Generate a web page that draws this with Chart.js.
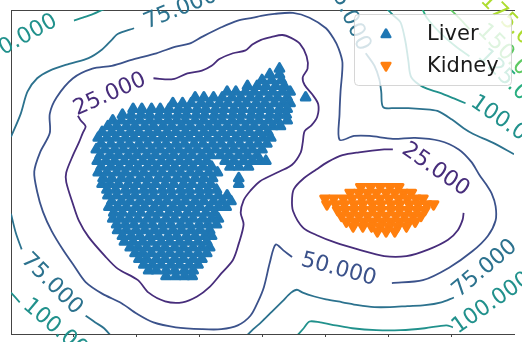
<!DOCTYPE html>
<html>
<head>
<meta charset="utf-8">
<title>Liver / Kidney embedding</title>
<script src="https://cdn.jsdelivr.net/npm/chart.js@4.4.1/dist/chart.umd.min.js"></script>
<style>
  html, body { margin: 0; padding: 0; background: #fff; }
  #wrap { width: 522px; height: 342px; }
</style>
</head>
<body>
<div id="wrap"><canvas id="tissueChart" width="522" height="342"></canvas></div>
<script>
// samples, one row of the cloud per y value
const liverRowY = [63, 69, 75, 81, 87, 93, 99, 105, 111, 117, 123, 129, 135, 141, 147, 153, 159, 165, 171,
  177, 183, 189, 195, 201, 207, 213, 219, 225, 231, 237, 243, 249, 255, 261, 267, 273, 279];
const liverRowX = [
  [280],
  [270, 280],
  [262, 272, 282],
  [247, 257, 266, 276, 285],
  [226, 235, 245, 254, 264, 273, 283, 291],
  [193, 202, 212, 221, 231, 240, 250, 259, 269, 278, 288, 307],
  [170, 180, 189, 199, 208, 218, 227, 237, 246, 256, 265, 275, 284, 291],
  [129, 138, 148, 157, 166, 176, 185, 195, 204, 214, 223, 233, 242, 252, 261, 270, 280, 288],
  [118, 127, 137, 146, 156, 165, 175, 184, 194, 203, 213, 222, 232, 241, 251, 260, 270, 279, 287],
  [108, 117, 127, 136, 146, 155, 165, 174, 183, 193, 202, 212, 221, 231, 240, 250, 259, 269, 278, 288],
  [103, 112, 122, 131, 141, 150, 160, 169, 179, 188, 198, 207, 216, 226, 235, 245, 254, 264, 273, 281],
  [97, 107, 116, 126, 135, 145, 154, 164, 173, 183, 192, 202, 211, 221, 230, 240, 249, 259, 268],
  [93, 102, 111, 121, 130, 140, 149, 159, 168, 178, 187, 197, 206, 216, 225, 235, 244, 254, 263, 271],
  [96, 106, 116, 125, 135, 144, 154, 163, 173, 182, 192, 201, 211, 220, 230, 239, 249, 258, 267],
  [91, 100, 110, 119, 129, 138, 148, 157, 167, 176, 186, 195, 205, 214, 224, 233, 243, 252, 262],
  [95, 105, 114, 124, 133, 143, 152, 162, 171, 181, 190, 200, 209, 219, 228, 238, 247, 257],
  [92, 101, 110, 120, 129, 139, 148, 158, 167, 177, 186, 196, 205, 224, 233, 243, 252, 260, 266],
  [96, 106, 115, 125, 134, 144, 153, 163, 172, 182, 191, 201, 210, 229, 238, 248],
  [93, 102, 112, 121, 131, 140, 150, 159, 169, 178, 188, 197, 207, 216],
  [98, 107, 117, 126, 136, 145, 155, 164, 174, 183, 193, 202, 211, 238],
  [97, 105, 114, 124, 133, 143, 152, 162, 171, 181, 190, 200, 209, 238],
  [102, 111, 121, 130, 140, 149, 159, 168, 178, 187, 197, 206, 215],
  [103, 112, 122, 131, 141, 150, 160, 169, 179, 188, 198, 207, 217, 226],
  [107, 117, 126, 136, 145, 155, 164, 174, 183, 193, 202, 212, 221, 230],
  [104, 113, 122, 132, 141, 151, 160, 170, 179, 189, 198, 208, 217, 225],
  [109, 118, 128, 137, 147, 156, 166, 175, 185, 194, 204, 213],
  [108, 116, 125, 134, 144, 153, 163, 172, 182, 191, 201, 210, 217],
  [112, 121, 130, 140, 149, 159, 168, 178, 187, 197, 206, 215],
  [113, 122, 132, 141, 151, 160, 170, 179, 189, 198, 208],
  [118, 127, 136, 146, 155, 165, 174, 184, 193, 203, 210],
  [120, 129, 139, 148, 158, 167, 177, 186, 196, 205],
  [126, 134, 143, 153, 162, 172, 181, 191, 200, 208],
  [131, 139, 148, 158, 167, 177, 186, 196, 205],
  [135, 143, 153, 162, 172, 181, 191, 200],
  [140, 149, 158, 168, 177, 187, 196],
  [145, 153, 163, 172, 182, 191],
  [163, 173, 182, 190]
];
const kidneyRowY = [186, 192, 198, 204, 210, 216, 222, 227, 232];
const kidneyRowX = [
  [364, 374, 384, 394, 403],
  [353, 362, 371, 380, 390, 399, 408, 416],
  [327, 336, 346, 355, 365, 374, 384, 393, 403, 412, 421, 428],
  [329, 338, 347, 357, 366, 376, 385, 395, 404, 414, 423, 432, 439],
  [340, 348, 357, 366, 376, 385, 395, 404, 413, 422, 430],
  [344, 353, 362, 371, 381, 390, 400, 409, 418, 426],
  [349, 358, 367, 376, 386, 395, 404, 413, 420],
  [356, 366, 375, 384, 393, 402, 411],
  [381, 390, 399]
];

// contour levels and their viridis colours
const levels = [25, 50, 75, 100, 125, 150, 175];
const levelColors = ['#472d7b', '#3b528b', '#2c728e', '#21918c', '#28ae80', '#5ec962', '#addc30'];

// contour pieces (broken where the labels sit)
const c25Liver = [[150,73],[170,74],[185,68],[200,65],[210,60],[218,53],[232,47],[245,44],[252,38],[261,33],
  [272,30],[283,28],[292,31],[301,37],[308,50],[309,63],[304,72],[306,80],[314,90],[320,100],[319,113],
  [313,122],[306,128],[304,140],[302,150],[293,163],[280,170],[260,180],[250,190],[243,200],[240,213],
  [243,225],[238,245],[232,262],[220,276],[208,290],[195,300],[180,306],[162,305],[145,296],[134,283],
  [113,271],[100,258],[83,238],[73,221],[67,204],[60,181],[60,171],[67,153],[73,140],[77,130],[80,123],
  [75,117],[72,112]];
const c25Kidney = [[397,147],[388,147],[362,150],[345,153],[330,160],[318,168],[304,178],[295,188],[293,198],
  [294,211],[304,228],[318,236],[338,244],[361,251],[388,258],[411,258],[434,251],[454,241],[464,231],
  [469,220],[470,213]];
const c50 = [[396,286],[428,283],[455,270],[479,253],[495,237],[503,221],[503,206],[499,193],[493,183],
  [486,173],[478,160],[465,147],[445,138],[420,135],[397,136],[373,133],[357,133],[342,137],[342,110],
  [343,87],[345,57],[341,42],[336,32],[328,21],[311,10],[294,5],[275,6],[261,8],[253,10],[237,13],
  [220,20],[200,30],[187,37],[173,40],[153,47],[130,53],[107,60],[87,63],[67,73],[50,93],[43,110],
  [43,130],[33,150],[27,170],[30,191],[36,212],[45,232],[57,252],[68,268],[80,285],[97,297],[117,307],
  [133,318],[150,327],[173,332],[200,334],[220,334],[237,330],[250,320],[258,305],[264,290],[270,265],
  [276,246],[284,252],[293,259]];
const c75TopLeft = [[3,134],[13,110],[20,87],[30,73],[43,65],[63,58],[83,52],[97,43],[107,33],[113,27],[130,21]];
const c75Left = [[3,214],[8,234],[14,251]];
const c75LeftLow = [[80,320],[90,327],[99,333],[107,342]];
const c75Bottom = [[245,342],[253,334],[261,327],[272,316],[283,305],[292,296],[298,293],[304,296],[316,300],
  [328,303],[345,306],[361,309],[378,311],[394,311],[412,310],[430,309],[447,306],[460,301]];
const c75Right = [[369,47],[378,60],[383,74],[385,87],[387,103],[400,104],[413,104],[428,105],[443,107],
  [458,116],[470,125],[480,131],[500,140],[522,152]];
const c100TopLeft = [[68,13],[77,10],[88,6],[97,2],[102,0]];
const c100Left = [[3,296],[12,306]];
const c100Bottom = [[297,342],[305,333],[311,326],[322,327],[338,330],[355,333],[380,335],[405,335],
  [430,333],[452,330],[459,332]];
const c100Right = [[390,0],[398,8],[405,15],[410,35],[413,55],[416,72],[428,82],[445,88],[460,94],[472,99]];
const c125 = [[427,0],[432,10],[445,25],[462,40],[476,50]];
const c150 = [[455,0],[467,12],[476,22]];

const contourPieces = [
  [25, c25Liver], [25, c25Kidney], [50, c50],
  [75, c75TopLeft], [75, c75Left], [75, c75LeftLow], [75, c75Bottom], [75, c75Right],
  [100, c100TopLeft], [100, c100Left], [100, c100Bottom], [100, c100Right],
  [125, c125], [150, c150]
];

// inline labels: level, centre x, centre y, angle (deg)
const contourLabels = [
  [25, 105, 90, -24], [25, 441, 168, 35], [50, 341, 272, 15],
  [75, 178, 1, -22], [75, 45, 287, 45], [75, 492, 271, -40], [75, 351, 7, 65],
  [100, 8, 35, -29], [100, 54, 337, 40], [100, 499, 307, -35], [100, 518, 123, 35],
  [125, 521, 80, 45], [150, 521, 54, 45], [175, 524, 22, 45]
];

const xTicks = [67, 132, 197, 262, 327, 392, 457];

function colorFor(level) {
  return levelColors[levels.indexOf(level)];
}

function rowsToPoints(ys, xs) {
  const pts = [];
  ys.forEach((y, i) => xs[i].forEach(x => pts.push({ x: x, y: y })));
  return pts;
}

const liverSet = {
  label: 'Liver',
  data: rowsToPoints(liverRowY, liverRowX),
  pointStyle: 'triangle',
  pointRadius: 5,
  pointRotation: 0,
  pointBackgroundColor: '#1f77b4',
  pointBorderColor: '#1f77b4',
  pointBorderWidth: 3,
  showLine: false
};
const kidneySet = {
  label: 'Kidney',
  data: rowsToPoints(kidneyRowY, kidneyRowX),
  pointStyle: 'triangle',
  pointRadius: 5,
  pointRotation: 180,
  pointBackgroundColor: '#ff7f0e',
  pointBorderColor: '#ff7f0e',
  pointBorderWidth: 3,
  showLine: false
};
const lineSets = contourPieces.map(p => ({
  label: 'level ' + p[0],
  data: p[1].map(q => ({ x: q[0], y: q[1] })),
  showLine: true,
  borderColor: colorFor(p[0]),
  borderWidth: 1.8,
  borderJoinStyle: 'round',
  pointRadius: 0,
  tension: 0.3,
  fill: false
}));

// softer marker corners so the dense clouds close up like the original
const markerJoin = {
  id: 'markerJoin',
  beforeDatasetsDraw(chart) { chart.ctx.lineJoin = 'round'; },
  afterDatasetsDraw(chart) { chart.ctx.lineJoin = 'miter'; }
};

const labelPlugin = {
  id: 'contourLabels',
  afterDatasetsDraw(chart) {
    const ctx = chart.ctx, xs = chart.scales.x, ys = chart.scales.y;
    ctx.save();
    ctx.font = '22px "DejaVu Sans"';
    ctx.textAlign = 'center';
    ctx.textBaseline = 'middle';
    contourLabels.forEach(l => {
      ctx.save();
      ctx.translate(xs.getPixelForValue(l[1]), ys.getPixelForValue(l[2]));
      ctx.rotate(l[3] * Math.PI / 180);
      ctx.fillStyle = colorFor(l[0]);
      ctx.fillText(l[0].toFixed(3), 0, 0);
      ctx.restore();
    });
    ctx.restore();
  }
};

function drawMarker(ctx, rot, x, y) {
  if (Chart.helpers && Chart.helpers.drawPoint) {
    Chart.helpers.drawPoint(ctx, { pointStyle: 'triangle', radius: 5, rotation: rot, borderWidth: 2.5 }, x, y);
    return;
  }
  const r = 5, s = rot ? -1 : 1;
  ctx.beginPath();
  ctx.moveTo(x, y - s * r);
  ctx.lineTo(x + 0.866 * r, y + s * r / 2);
  ctx.lineTo(x - 0.866 * r, y + s * r / 2);
  ctx.closePath();
  ctx.fill();
  ctx.stroke();
}

const legendPlugin = {
  id: 'boxLegend',
  afterDraw(chart) {
    const ctx = chart.ctx;
    const bx = 354.5, by = 14.5, bw = 157, bh = 71, rad = 4;
    ctx.save();
    ctx.beginPath();
    ctx.moveTo(bx + rad, by);
    ctx.arcTo(bx + bw, by, bx + bw, by + bh, rad);
    ctx.arcTo(bx + bw, by + bh, bx, by + bh, rad);
    ctx.arcTo(bx, by + bh, bx, by, rad);
    ctx.arcTo(bx, by, bx + bw, by, rad);
    ctx.closePath();
    ctx.fillStyle = 'rgba(255,255,255,0.8)';
    ctx.fill();
    ctx.strokeStyle = 'rgba(204,204,204,0.8)';
    ctx.lineWidth = 1;
    ctx.stroke();

    const items = [[chart.data.datasets[0], 34.5, 39.5], [chart.data.datasets[1], 65.5, 71.5]];
    ctx.font = '21px "DejaVu Sans"';
    ctx.textAlign = 'left';
    ctx.textBaseline = 'alphabetic';
    ctx.lineJoin = 'round';
    items.forEach(it => {
      const ds = it[0];
      ctx.fillStyle = ds.pointBackgroundColor;
      ctx.strokeStyle = ds.pointBorderColor;
      ctx.lineWidth = 2.5;
      drawMarker(ctx, ds.pointRotation, 386, it[1]);
      ctx.fillStyle = '#1a1a1a';
      ctx.fillText(ds.label, 427, it[2]);
    });
    ctx.restore();
  }
};

new Chart(document.getElementById('tissueChart'), {
  type: 'scatter',
  data: { datasets: [liverSet, kidneySet].concat(lineSets) },
  options: {
    responsive: false,
    animation: false,
    events: [],
    layout: { padding: { left: 3, top: 2, right: 0, bottom: 0 } },
    plugins: { legend: { display: false }, tooltip: { enabled: false } },
    scales: {
      x: {
        type: 'linear', position: 'bottom', min: 3, max: 522,
        afterBuildTicks: axis => { axis.ticks = xTicks.map(v => ({ value: v })); },
        grid: { display: true, drawOnChartArea: false, drawTicks: true, tickLength: 3, color: '#444' },
        ticks: { display: false },
        border: { display: true, color: '#444', width: 1 }
      },
      xTop: {
        type: 'linear', position: 'top', min: 3, max: 522,
        grid: { display: false }, ticks: { display: false },
        border: { display: true, color: '#444', width: 1 }
      },
      y: {
        type: 'linear', position: 'left', reverse: true, min: 2, max: 339,
        grid: { display: false }, ticks: { display: false },
        border: { display: true, color: '#444', width: 1 }
      }
    }
  },
  plugins: [markerJoin, labelPlugin, legendPlugin]
});
</script>
</body>
</html>
